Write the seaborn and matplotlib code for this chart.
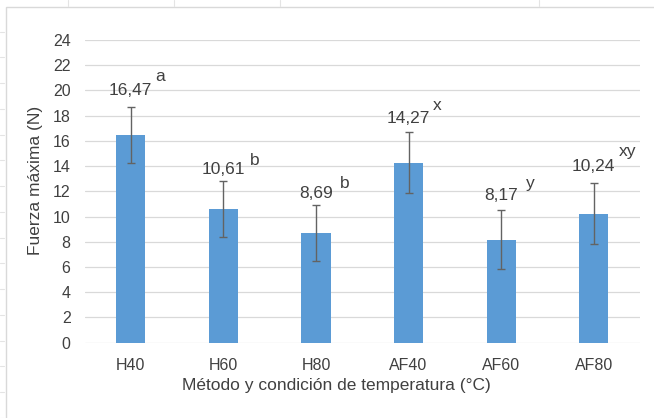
import matplotlib
matplotlib.use("Agg")
import matplotlib.pyplot as plt
import seaborn as sns
from matplotlib.lines import Line2D
from matplotlib.patches import Rectangle

# Maximum force per method and temperature condition
categories = ["H40", "H60", "H80", "AF40", "AF60", "AF80"]
means = [16.47, 10.61, 8.69, 14.27, 8.17, 10.24]
errors = [2.22, 2.20, 2.20, 2.40, 2.35, 2.40]
letters = ["a", "b", "b", "x", "y", "xy"]
y_ticks = list(range(0, 25, 2))

sns.set_style("white")
plt.rcParams["font.family"] = ["Liberation Sans", "DejaVu Sans"]

TEXT = "#404040"
BAR = "#5B9BD5"
GRID = "#D9D9D9"

W, H = 654, 418
fig = plt.figure(figsize=(W / 100, H / 100), dpi=100)

# spreadsheet-style frame around the chart
fig.patches.append(Rectangle((5.8 / W, -0.05), 1.1, (H - 6.7) / H + 0.05,
                             transform=fig.transFigure, fill=False,
                             edgecolor=GRID, lw=1.0))
for xp in [68, 174, 280, 539]:
    fig.lines.append(Line2D([xp / W, xp / W], [1, 1 - 6 / H],
                            transform=fig.transFigure, color="#E4E4E4", lw=0.8))
yp = 31.7
while yp < H:
    fig.lines.append(Line2D([0, 4 / W], [1 - yp / H, 1 - yp / H],
                            transform=fig.transFigure, color="#E4E4E4", lw=0.8))
    yp += 25.75

left, right, top, bottom = 84.5, 640, 40, 342.7
ax = fig.add_axes([left / W, 1 - bottom / H, (right - left) / W, (bottom - top) / H])

sns.barplot(x=categories, y=means, color=BAR, saturation=1, width=0.315,
            linewidth=0, ax=ax, zorder=2)
ax.errorbar(range(len(categories)), means, yerr=errors, fmt="none",
            ecolor="#636363", elinewidth=1.0, capsize=2.6, capthick=1.0, zorder=3)

ax.set_xlim(-0.5, len(categories) - 0.5)
ax.set_ylim(0, 24)
ax.set_yticks(y_ticks)
ax.yaxis.grid(True, color=GRID, lw=0.9)
ax.set_axisbelow(True)
for s in ax.spines.values():
    s.set_visible(False)
ax.tick_params(axis="both", length=0, labelsize=11.5, labelcolor=TEXT)
ax.tick_params(axis="x", pad=11)
ax.tick_params(axis="y", pad=10)

ax.set_xlabel("Método y condición de temperatura (°C)", fontsize=12.5, color=TEXT)
ax.set_ylabel("Fuerza máxima (N)", fontsize=12.5, color=TEXT)
ax.xaxis.set_label_coords(0.453, -0.118)
ax.yaxis.set_label_coords(-0.075, 0.535)

# value labels above the error bars, with significance letters as superscripts
label_rise = [16.5, 11.5, 11.5, 13.5, 14.5, 16.5]   # px above the error cap
letter_gap = [3, 5, 7, 3, 8, 3]                      # px right of the value
letter_rise = [2, -3, -2, 1, 0, 3]                   # px relative to value top
px = 0.72
for i, (m, e) in enumerate(zip(means, errors)):
    t = ax.annotate(f"{m:.2f}".replace(".", ","), xy=(i, m + e),
                    xytext=(0, label_rise[i] * px), textcoords="offset points",
                    ha="center", va="center", fontsize=12.5, color=TEXT)
    ax.annotate(letters[i], xy=(1, 1), xycoords=t,
                xytext=(letter_gap[i] * px, letter_rise[i] * px),
                textcoords="offset points", ha="left", va="baseline",
                fontsize=12.5, color=TEXT)

fig.savefig("out.png", dpi=100)
